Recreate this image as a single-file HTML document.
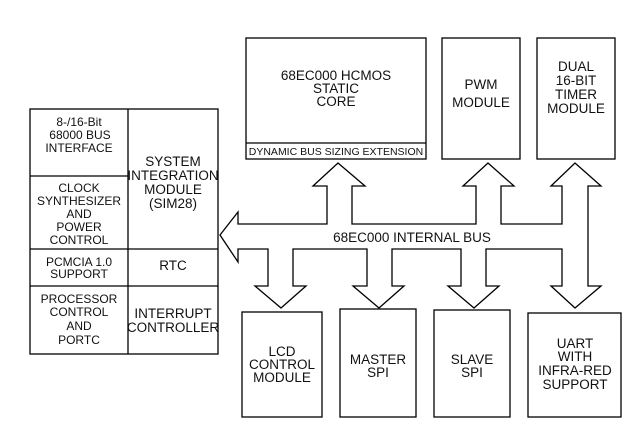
<!DOCTYPE html>
<html><head><meta charset="utf-8"><style>
html,body{margin:0;padding:0;background:#fff;}
svg{display:block;}
text{font-family:"Liberation Sans Narrow","Liberation Sans",sans-serif;fill:#111;text-anchor:middle;}
</style></head><body>
<svg width="637" height="428" viewBox="0 0 637 428" xmlns="http://www.w3.org/2000/svg">
<g fill="none" stroke="#000" stroke-width="1.3">
<!-- left block -->
<rect x="30" y="109" width="188" height="245"/>
<line x1="128" y1="109" x2="128" y2="354"/>
<line x1="30" y1="176" x2="128" y2="176"/>
<line x1="30" y1="249" x2="218" y2="249"/>
<line x1="30" y1="286" x2="218" y2="286"/>
<!-- top boxes -->
<rect x="246" y="38" width="180" height="121"/>
<line x1="246" y1="143" x2="426" y2="143"/>
<rect x="442" y="38" width="78" height="121"/>
<rect x="537" y="38" width="78" height="121"/>
<!-- bottom boxes -->
<rect x="242" y="312" width="80" height="105"/>
<rect x="340" y="309" width="76" height="108"/>
<rect x="434" y="310" width="76" height="107"/>
<rect x="528" y="313" width="93" height="104"/>
<!-- bus outline -->
<path d="M238,224 L327,224 L327,186 L313,186 L338,163 L365,186 L352,186 L352,224 L476,224 L476,186 L463,186 L488,163 L514,186 L501,186 L501,224 L562,224 L562,186 L551,186 L575,163 L601,186 L588,186 L588,286 L601,286 L575,308 L551,286 L562,286 L562,249 L486,249 L486,286 L499,286 L474,308 L448,286 L461,286 L461,249 L392,249 L392,286 L404,286 L379,308 L353,286 L367,286 L367,249 L293,249 L293,286 L306,286 L281,308 L255,286 L268,286 L268,249 L238,249 L238,262 L220,235 L238,212 Z"/>
</g>
<g font-size="12">
<text x="79" y="126">8-/16-Bit</text>
<text x="80" y="139">68000 BUS</text>
<text x="79" y="152">INTERFACE</text>
<text x="79" y="192">CLOCK</text>
<text x="79" y="205">SYNTHESIZER</text>
<text x="79" y="218">AND</text>
<text x="79" y="231">POWER</text>
<text x="79" y="244">CONTROL</text>
<text x="79" y="266">PCMCIA 1.0</text>
<text x="79" y="278">SUPPORT</text>
<text x="79" y="303">PROCESSOR</text>
<text x="79" y="316">CONTROL</text>
<text x="79" y="330">AND</text>
<text x="79" y="344">PORTC</text>
</g>
<g font-size="13.5">
<text x="173" y="166">SYSTEM</text>
<text x="173" y="180">INTEGRATION</text>
<text x="173" y="194">MODULE</text>
<text x="173" y="208">(SIM28)</text>
<text x="173" y="270">RTC</text>
<text x="173" y="318">INTERRUPT</text>
<text x="173" y="332">CONTROLLER</text>
<text x="336" y="80">68EC000 HCMOS</text>
<text x="336" y="93">STATIC</text>
<text x="336" y="106">CORE</text>
<text x="481" y="89">PWM</text>
<text x="481" y="107">MODULE</text>
<text x="576" y="71">DUAL</text>
<text x="576" y="85">16-BIT</text>
<text x="576" y="99">TIMER</text>
<text x="576" y="113">MODULE</text>
<text x="412" y="242">68EC000 INTERNAL BUS</text>
<text x="282" y="356">LCD</text>
<text x="282" y="369">CONTROL</text>
<text x="282" y="382">MODULE</text>
<text x="378" y="364">MASTER</text>
<text x="378" y="377">SPI</text>
<text x="472" y="364">SLAVE</text>
<text x="472" y="377">SPI</text>
<text x="575" y="348">UART</text>
<text x="575" y="361">WITH</text>
<text x="575" y="375">INFRA-RED</text>
<text x="575" y="389">SUPPORT</text>
</g>
<text x="336" y="155" font-size="10.5">DYNAMIC BUS SIZING EXTENSION</text>
</svg>
</body></html>
